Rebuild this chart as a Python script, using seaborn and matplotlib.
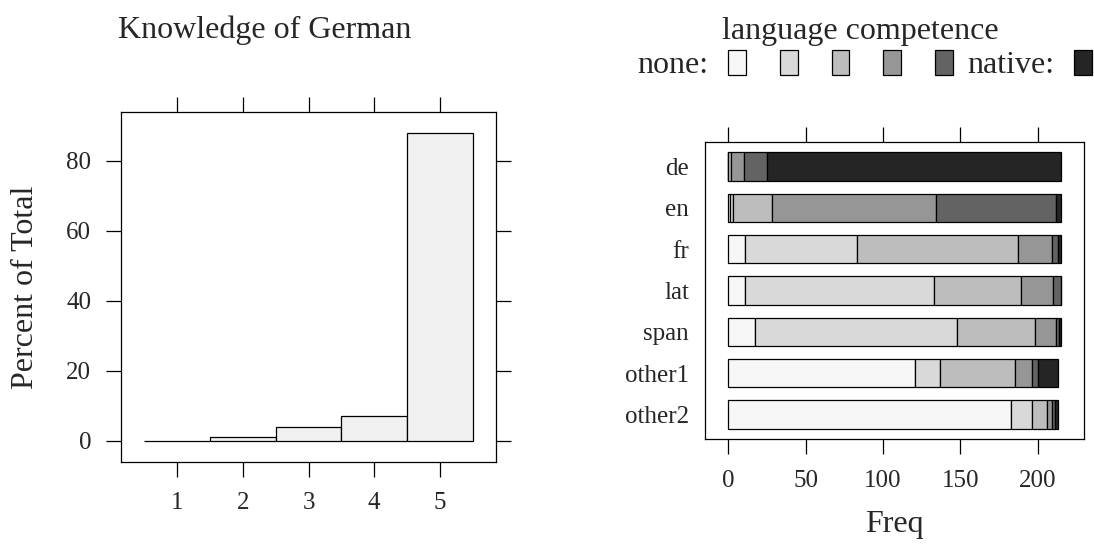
import numpy as np
import pandas as pd
import seaborn as sns
import matplotlib.pyplot as plt
from matplotlib.patches import Patch

# ── Data ───────────────────────────────────────────────────────────────────────
german_levels = [1, 2, 3, 4, 5]
german_percent = [0.0, 1.0, 3.8, 7.1, 88.1]

languages = ["de", "en", "fr", "lat", "span", "other1", "other2"]
competence = ["none", "2", "3", "4", "5", "native"]
freq_none = [0, 1, 11, 11, 17, 121, 183]
freq_2 = [0, 2, 72, 122, 131, 16, 13]
freq_3 = [2, 25, 104, 56, 50, 48, 10]
freq_4 = [8, 106, 22, 21, 14, 11, 3]
freq_5 = [15, 78, 4, 5, 2, 4, 2]
freq_native = [190, 3, 2, 0, 1, 13, 2]

greys = ["#F7F7F7", "#D9D9D9", "#BDBDBD", "#969696", "#636363", "#252525"]
legend_labels = ["none:", "", "", "", "", "native:"]

# long table for the stacked bars
freqs = [freq_none, freq_2, freq_3, freq_4, freq_5, freq_native]
rows = []
for level, vals in zip(competence, freqs):
    for lang, v in zip(languages, vals):
        rows.append({"language": lang, "competence": level, "Freq": v})
lang_df = pd.DataFrame(rows)
lang_df["language"] = pd.Categorical(lang_df["language"], categories=languages)

# ── Style ──────────────────────────────────────────────────────────────────────
sns.set_style("ticks")
plt.rcParams["font.family"] = ["Liberation Serif", "DejaVu Serif"]
plt.rcParams["axes.linewidth"] = 0.9
plt.rcParams["axes.edgecolor"] = "black"

W, H = 1094, 550
fig = plt.figure(figsize=(W / 100, H / 100), dpi=100)
ax1 = fig.add_axes([121.3 / W, 1 - 461.7 / H, 374.4 / W, 349.4 / H])
ax2 = fig.add_axes([705 / W, 1 - 439.3 / H, 379.3 / W, 297.6 / H])

# ── Left: histogram of German knowledge ────────────────────────────────────────
sns.histplot(x=german_levels, weights=german_percent, discrete=True,
             color="#F1F1F1", edgecolor="black", linewidth=0.9, alpha=1,
             ax=ax1)
ax1.set_xlim(0.15, 5.85)
ax1.set_ylim(-6.0, 93.9)
ax1.set_xticks(german_levels)
ax1.set_yticks([0, 20, 40, 60, 80])
ax1.tick_params(direction="out", length=10.8, width=0.9, color="black",
                top=True, right=True, labeltop=False, labelright=False,
                labelsize=18, pad=11)
ax1.set_xlabel("")
ax1.set_ylabel("Percent of Total", fontsize=23)
ax1.yaxis.set_label_coords(-0.218, 0.5)

# ── Right: stacked bars of language competence ─────────────────────────────────
sns.histplot(data=lang_df, y="language", hue="competence", weights="Freq",
             multiple="stack", discrete=True, shrink=0.68,
             hue_order=competence[::-1],
             palette=dict(zip(competence, greys)),
             edgecolor="black", linewidth=0.9, alpha=1, legend=False, ax=ax2)
ax2.set_xlim(-15.0, 230.1)
ax2.set_ylim(6.6, -0.6)
ax2.set_yticks(range(len(languages)))
ax2.set_yticklabels(languages)
ax2.set_xticks([0, 50, 100, 150, 200])
ax2.tick_params(axis="x", direction="out", length=10.8, width=0.9,
                color="black", top=True, labeltop=False, labelsize=18, pad=11)
ax2.tick_params(axis="y", length=0, labelsize=18, pad=11.5)
ax2.set_ylabel("")
ax2.set_xlabel("Freq", fontsize=23, labelpad=13)

# ── Titles and key ─────────────────────────────────────────────────────────────
fig.text(265 / W, 1 - 38 / H, "Knowledge of German", ha="center",
         va="baseline", fontsize=23)
fig.text(860 / W, 1 - 39 / H, "language competence", ha="center",
         va="baseline", fontsize=23)
handles = [Patch(facecolor=c, edgecolor="black", linewidth=0.9) for c in greys]
fig.legend(handles=handles, labels=legend_labels, ncol=6, markerfirst=False,
           loc="center", bbox_to_anchor=(864.5 / W, 1 - 65 / H),
           frameon=False, fontsize=23, handlelength=0.56, handleheight=0.85,
           handletextpad=0.62, columnspacing=0.44, borderpad=0,
           borderaxespad=0)

fig.savefig("out.png", dpi=100)
